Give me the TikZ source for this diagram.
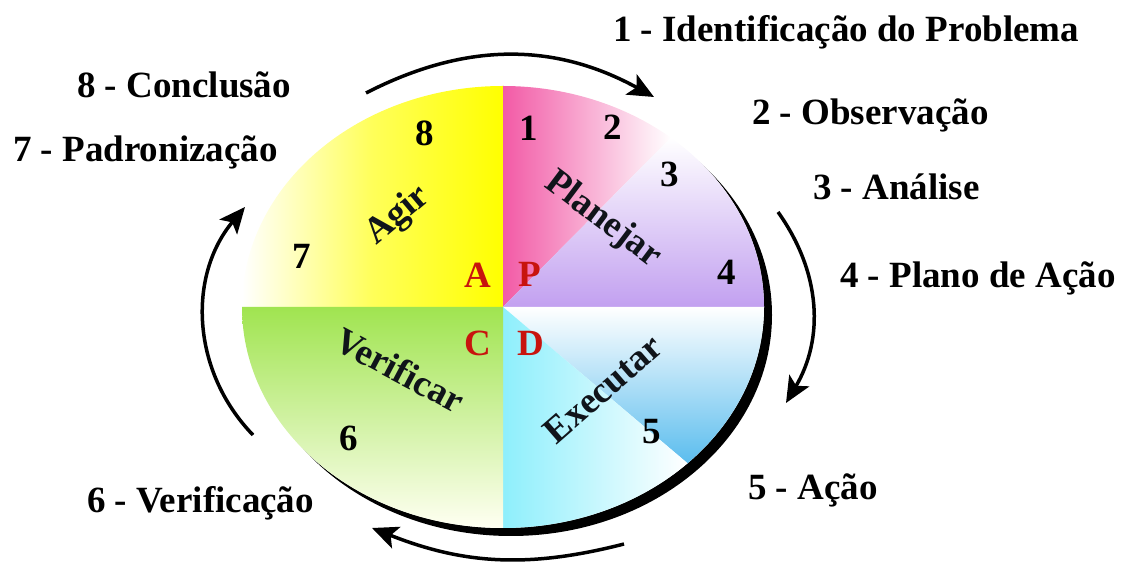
\documentclass[tikz,border=0pt]{standalone}
\usepackage{fontspec}
\setmainfont{Liberation Serif}
\usepackage{tikz}
\usetikzlibrary{arrows.meta}
\definecolor{amarelo}{HTML}{FFFF00}
\definecolor{rosa}{HTML}{F25AA6}
\definecolor{lilas}{HTML}{C2A0F0}
\definecolor{azul}{HTML}{5BBDEE}
\definecolor{ciano}{HTML}{8EEFFC}
\definecolor{verde}{HTML}{A0E450}
\definecolor{creme}{HTML}{FFFFF2}
\definecolor{vermelho}{HTML}{C8140E}
\definecolor{escuro}{HTML}{10141A}
\tikzset{
  seta/.style={-{Stealth[length=26pt,width=23pt,inset=6pt]},line width=3.5pt},
  txt/.style={font=\bfseries\fontsize{37}{40}\selectfont,inner sep=0pt},
  etapa/.style={txt,anchor=base west},
  num/.style={txt},
  letra/.style={txt,text=vermelho},
  fase/.style={txt,text=escuro}
}

\begin{document}
\begin{tikzpicture}[x=1pt,y=1pt]
\useasboundingbox (0,0) rectangle (1127,567);
% borda escura
\fill[black] (511,252) ellipse[x radius=261,y radius=221];
\fill[white] (503,260) ellipse[x radius=261,y radius=221];
% quadrantes
\shade[left color=white,right color=amarelo,middle color=amarelo!65!white] (503,260) -- (503,481) arc[start angle=90,end angle=180,x radius=261,y radius=221] -- cycle;
\shade[left color=rosa,right color=white] (503,260) -- (503,481) arc[start angle=90,end angle=50,x radius=261,y radius=221] -- cycle;
\shade[top color=white,bottom color=lilas] (503,260) -- (764,260) arc[start angle=0,end angle=50,x radius=261,y radius=221] -- cycle;
\shade[top color=white,bottom color=azul] (503,260) -- (764,260) arc[start angle=0,end angle=-45,x radius=261,y radius=221] -- cycle;
\shade[left color=ciano,right color=white] (503,260) -- (503,39) arc[start angle=-90,end angle=-45,x radius=261,y radius=221] -- cycle;
\shade[top color=verde,bottom color=creme] (503,260) -- (242,260) arc[start angle=180,end angle=270,x radius=261,y radius=221] -- cycle;
% setas do ciclo
\draw[seta] (366,474) to[bend left=28] (654,470);
\draw[seta] (778,355) to[bend left=33] (786,164);
\draw[seta] (624,23) to[bend left=18] (372,39);
\draw[seta] (253,132) to[bend left=42] (245,360);
% fases
\node[fase,rotate=40] (agir) at (398,351) {Agir};
\node[fase,rotate=-37] (planejar) at (603,347) {Planejar};
\node[fase,rotate=41] (executar) at (603,178) {Executar};
\node[fase,rotate=-28] (verificar) at (400,197) {Verificar};
% letras PDCA
\node[letra] (lA) at (478,292) {A};
\node[letra] (lP) at (530,293) {P};
\node[letra] (lC) at (478,224) {C};
\node[letra] (lD) at (531,224) {D};
% numeros
\node[num] (n1) at (529,439) {1};
\node[num] (n2) at (613,440) {2};
\node[num] (n3) at (670,393) {3};
\node[num] (n4) at (727,295) {4};
\node[num] (n5) at (652,135) {5};
\node[num] (n6) at (349,129) {6};
\node[num] (n7) at (302,311) {7};
\node[num] (n8) at (425,434) {8};
% etapas
\node[etapa] (e1) at (613,525) {1 - Identificação do Problema};
\node[etapa] (e2) at (752,442) {2 - Observação};
\node[etapa] (e3) at (813,367) {3 - Análise};
\node[etapa] (e4) at (840,279) {4 - Plano de Ação};
\node[etapa] (e5) at (748,67) {5 - Ação};
\node[etapa] (e6) at (87,54) {6 - Verificação};
\node[etapa] (e7) at (13,405) {7 - Padronização};
\node[etapa] (e8) at (77,469) {8 - Conclusão};
\end{tikzpicture}
\end{document}
